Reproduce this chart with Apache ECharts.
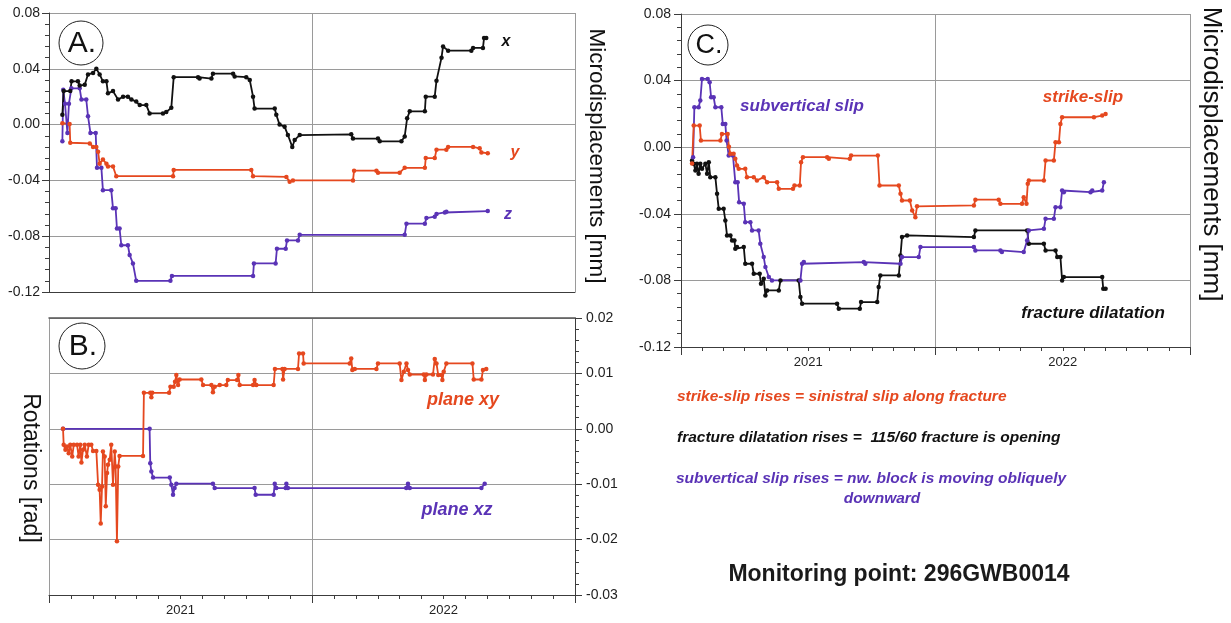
<!DOCTYPE html>
<html>
<head>
<meta charset="utf-8">
<title>Monitoring point 296GWB0014</title>
<script src="https://cdn.jsdelivr.net/npm/echarts@6/dist/echarts.min.js"></script>
<style>
  html, body { margin: 0; padding: 0; background: #fff; }
  #chart { width: 1231px; height: 623px; }
</style>
</head>
<body>
<div id="chart"></div>
<script>
// x = months counted from 1 Jan 2021, y = value
var yearLabels = ['2021', '2022'];

// A. microdisplacements [mm]
var dispX = [[0.61,0.007],[0.67,0.024],[0.97,0.024],[1.03,0.031],[1.32,0.031],[1.40,0.028],[1.63,0.0285],[1.78,0.036],[2.01,0.037],[2.16,0.040],[2.31,0.036],[2.46,0.031],[2.62,0.031],[2.69,0.0225],[2.92,0.024],[3.15,0.018],[3.38,0.020],[3.60,0.020],[3.76,0.018],[3.98,0.0165],[4.14,0.014],[4.44,0.014],[4.59,0.008],[5.20,0.008],[5.35,0.009],[5.58,0.012],[5.69,0.034],[6.80,0.034],[6.87,0.033],[7.41,0.033],[7.48,0.0365],[8.40,0.0365],[8.47,0.0345],[9.00,0.034],[9.16,0.032],[9.31,0.020],[9.38,0.0115],[10.30,0.0115],[10.37,0.007],[10.52,0.000],[10.75,-0.0015],[10.90,-0.0075],[11.10,-0.016],[11.21,-0.011],[11.44,-0.0075],[13.79,-0.007],[13.87,-0.010],[15.01,-0.010],[15.09,-0.012],[16.08,-0.012],[16.23,-0.0085],[16.34,0.0045],[16.46,0.0095],[17.15,0.0095],[17.19,0.020],[17.60,0.020],[17.68,0.0315],[17.91,0.048],[17.98,0.056],[18.21,0.053],[19.27,0.053],[19.35,0.055],[19.80,0.055],[19.85,0.062],[19.95,0.062]];
var dispY = [[0.61,0.001],[0.94,0.0005],[0.97,-0.013],[1.86,-0.0135],[2.01,-0.016],[2.16,-0.016],[2.24,-0.0195],[2.31,-0.028],[2.46,-0.025],[2.62,-0.028],[2.69,-0.030],[2.92,-0.030],[3.07,-0.037],[5.66,-0.037],[5.69,-0.0325],[9.23,-0.0325],[9.31,-0.037],[10.83,-0.0375],[10.98,-0.041],[11.13,-0.040],[13.87,-0.040],[13.92,-0.033],[14.94,-0.033],[15.01,-0.0345],[16.00,-0.0345],[16.23,-0.031],[17.15,-0.031],[17.19,-0.024],[17.60,-0.024],[17.68,-0.018],[18.13,-0.018],[18.21,-0.016],[19.35,-0.016],[19.65,-0.017],[19.73,-0.020],[20.02,-0.0205]];
var dispZ = [[0.61,-0.012],[0.65,0.025],[0.73,0.015],[0.84,-0.006],[0.91,0.015],[1.02,0.026],[1.40,0.026],[1.48,0.018],[1.70,0.018],[1.78,0.006],[1.89,-0.006],[2.13,-0.006],[2.19,-0.031],[2.39,-0.031],[2.46,-0.047],[2.84,-0.047],[2.92,-0.060],[3.04,-0.060],[3.10,-0.0745],[3.22,-0.0745],[3.30,-0.0865],[3.60,-0.0865],[3.68,-0.0935],[3.83,-0.0995],[3.98,-0.112],[5.54,-0.112],[5.61,-0.1085],[9.31,-0.1085],[9.35,-0.0995],[10.34,-0.0995],[10.40,-0.089],[10.80,-0.089],[10.86,-0.083],[11.36,-0.083],[11.44,-0.079],[16.23,-0.079],[16.31,-0.071],[17.15,-0.071],[17.22,-0.067],[17.60,-0.066],[17.68,-0.064],[18.06,-0.063],[18.13,-0.0625],[20.02,-0.062]];

// B. rotations [rad]
var rotXY = [[0.64,0.0],[0.67,-0.0029],[0.75,-0.0038],[0.82,-0.0032],[0.90,-0.0044],[0.97,-0.0029],[1.06,-0.005],[1.13,-0.0029],[1.28,-0.0029],[1.35,-0.005],[1.43,-0.0029],[1.48,-0.0061],[1.55,-0.0038],[1.63,-0.0029],[1.73,-0.005],[1.81,-0.0029],[1.93,-0.0029],[2.01,-0.004],[2.16,-0.004],[2.24,-0.0101],[2.31,-0.011],[2.36,-0.0171],[2.42,-0.0104],[2.46,-0.0041],[2.54,-0.005],[2.59,-0.014],[2.65,-0.008],[2.69,-0.0065],[2.77,-0.0056],[2.84,-0.0029],[2.92,-0.0101],[3.00,-0.0041],[3.04,-0.0068],[3.10,-0.0203],[3.16,-0.0068],[3.22,-0.0049],[4.29,-0.0049],[4.33,0.0065],[4.62,0.0065],[4.67,0.0057],[4.71,0.0065],[5.48,0.0065],[5.54,0.0076],[5.69,0.0076],[5.75,0.0085],[5.81,0.0097],[5.89,0.0079],[5.96,0.0089],[6.95,0.0089],[7.03,0.0079],[7.41,0.0079],[7.48,0.0066],[7.56,0.0076],[7.79,0.0079],[8.09,0.0079],[8.16,0.0088],[8.58,0.0088],[8.64,0.0097],[8.70,0.0079],[9.31,0.0079],[9.38,0.0088],[9.46,0.0079],[10.25,0.0079],[10.31,0.0108],[10.65,0.0108],[10.68,0.0089],[10.75,0.0108],[11.36,0.0108],[11.41,0.0136],[11.59,0.0136],[11.62,0.0118],[13.72,0.0118],[13.79,0.0127],[13.84,0.0106],[13.95,0.0108],[14.94,0.0108],[15.01,0.0118],[16.00,0.0118],[16.08,0.0088],[16.19,0.0103],[16.31,0.0118],[16.38,0.0106],[16.46,0.0098],[17.10,0.0098],[17.15,0.0088],[17.22,0.0098],[17.52,0.0098],[17.60,0.0126],[17.68,0.0118],[17.76,0.0097],[17.91,0.0097],[17.95,0.0088],[18.01,0.0103],[18.13,0.0118],[19.32,0.0118],[19.38,0.0089],[19.73,0.0089],[19.80,0.0106],[19.95,0.0108]];
var rotXZ = [[0.64,0.0],[4.59,0.0],[4.62,-0.0062],[4.67,-0.0077],[4.75,-0.0088],[5.51,-0.0088],[5.58,-0.0101],[5.66,-0.0119],[5.73,-0.0107],[5.81,-0.0099],[7.48,-0.0099],[7.56,-0.0107],[9.38,-0.0107],[9.43,-0.0119],[10.25,-0.0119],[10.30,-0.0099],[10.37,-0.0107],[10.80,-0.0107],[10.83,-0.0099],[10.90,-0.0107],[16.30,-0.0107],[16.38,-0.0099],[16.46,-0.0107],[19.73,-0.0107],[19.88,-0.0099]];

// C. fracture components [mm]
var strikeSlip = [[0.52,-0.0098],[0.60,0.013],[0.88,0.013],[0.94,0.004],[1.86,0.004],[1.93,0.008],[2.20,0.008],[2.26,0.0002],[2.33,-0.004],[2.48,-0.004],[2.56,-0.007],[2.64,-0.011],[2.72,-0.013],[3.03,-0.013],[3.11,-0.018],[3.43,-0.018],[3.58,-0.020],[3.90,-0.018],[4.06,-0.021],[4.53,-0.021],[4.61,-0.025],[5.28,-0.025],[5.35,-0.023],[5.60,-0.023],[5.66,-0.009],[5.75,-0.006],[6.89,-0.006],[6.97,-0.007],[7.96,-0.007],[8.02,-0.005],[9.28,-0.005],[9.36,-0.023],[10.27,-0.023],[10.35,-0.028],[10.42,-0.032],[10.79,-0.032],[10.90,-0.038],[11.05,-0.042],[11.13,-0.0355],[13.81,-0.035],[13.88,-0.0315],[14.98,-0.0315],[15.06,-0.034],[16.08,-0.034],[16.16,-0.030],[16.29,-0.034],[16.35,-0.022],[16.40,-0.020],[17.11,-0.020],[17.19,-0.008],[17.58,-0.008],[17.66,0.003],[17.82,0.003],[17.89,0.014],[17.97,0.018],[19.47,0.018],[19.86,0.019],[20.02,0.020]];
var dilatation = [[0.52,-0.008],[0.60,-0.010],[0.68,-0.014],[0.75,-0.010],[0.83,-0.016],[0.91,-0.010],[0.99,-0.013],[1.15,-0.010],[1.23,-0.016],[1.31,-0.009],[1.38,-0.018],[1.62,-0.018],[1.70,-0.028],[1.78,-0.037],[2.01,-0.037],[2.09,-0.044],[2.17,-0.053],[2.33,-0.053],[2.41,-0.056],[2.52,-0.056],[2.56,-0.061],[2.64,-0.060],[2.96,-0.060],[3.03,-0.070],[3.35,-0.070],[3.43,-0.076],[3.71,-0.076],[3.77,-0.082],[3.90,-0.079],[3.98,-0.089],[4.06,-0.086],[4.61,-0.086],[4.69,-0.080],[5.55,-0.080],[5.63,-0.090],[5.71,-0.094],[7.36,-0.094],[7.44,-0.097],[8.43,-0.097],[8.49,-0.093],[9.25,-0.093],[9.32,-0.084],[9.40,-0.077],[10.27,-0.077],[10.35,-0.065],[10.42,-0.054],[10.66,-0.053],[13.81,-0.054],[13.88,-0.050],[16.32,-0.050],[16.40,-0.058],[17.11,-0.058],[17.19,-0.062],[17.66,-0.062],[17.74,-0.066],[17.89,-0.066],[17.97,-0.080],[18.05,-0.078],[19.86,-0.078],[19.91,-0.085],[20.02,-0.085]];
var subvertical = [[0.57,-0.006],[0.63,0.024],[0.83,0.024],[0.91,0.028],[0.99,0.041],[1.26,0.041],[1.35,0.039],[1.42,0.030],[1.54,0.030],[1.62,0.024],[1.90,0.024],[1.97,0.014],[2.09,0.014],[2.15,0.004],[2.25,-0.005],[2.45,-0.005],[2.56,-0.021],[2.67,-0.021],[2.74,-0.033],[2.96,-0.034],[3.03,-0.045],[3.27,-0.045],[3.35,-0.050],[3.66,-0.050],[3.74,-0.058],[3.90,-0.066],[3.98,-0.072],[4.14,-0.078],[4.29,-0.080],[5.63,-0.080],[5.71,-0.070],[5.79,-0.069],[8.62,-0.069],[8.69,-0.070],[10.35,-0.070],[10.42,-0.066],[11.21,-0.066],[11.29,-0.060],[13.81,-0.060],[13.88,-0.062],[15.06,-0.062],[15.13,-0.063],[16.16,-0.063],[16.32,-0.056],[16.40,-0.050],[17.11,-0.049],[17.19,-0.043],[17.58,-0.043],[17.66,-0.036],[17.89,-0.036],[17.97,-0.026],[18.05,-0.027],[19.31,-0.027],[19.39,-0.026],[19.86,-0.026],[19.94,-0.021]];

var BLACK = '#111111', ORANGE = '#e5481f', PURPLE = '#5a33b6';
var AXIS = '#3c3c3c', GRID = '#9a9a9a';
var FONT = 'Arial, "Liberation Sans", sans-serif';

var chart = echarts.init(document.getElementById('chart'));

function fmt(v) {
    return Math.abs(v) < 1e-9 ? '0.00' : v.toFixed(2);
}

// month axis: long ticks at year ends, short ones every month
function timeAxis(grid, ticks) {
    return {
        type: 'value', gridIndex: grid, min: 0, max: 24, interval: 12, position: 'bottom',
        axisLine: { show: true, onZero: false, lineStyle: { color: AXIS } },
        axisTick: { show: ticks, length: 8, lineStyle: { color: AXIS } },
        minorTick: { show: ticks, splitNumber: 12, length: 4, lineStyle: { color: AXIS } },
        axisLabel: { show: false },
        splitLine: { show: true, lineStyle: { color: GRID } },
    };
}

// year names sit in the middle of each year
function yearAxis(grid) {
    return {
        type: 'value', gridIndex: grid, min: 0, max: 24, interval: 6, position: 'bottom',
        axisLine: { show: false }, axisTick: { show: false }, splitLine: { show: false },
        axisLabel: {
            margin: 9, fontSize: 13, color: '#222', fontFamily: FONT,
            formatter: function(v) {
                return v === 6 ? yearLabels[0] : v === 18 ? yearLabels[1] : '';
            },
        },
    };
}

function valueAxis(grid, min, max, step, pos, margin) {
    return {
        type: 'value', gridIndex: grid, min: min, max: max, interval: step, position: pos,
        axisLine: { show: true, onZero: false, lineStyle: { color: AXIS } },
        axisTick: { show: true, length: 7, lineStyle: { color: AXIS } },
        minorTick: { show: true, splitNumber: 5, length: 4, lineStyle: { color: AXIS } },
        axisLabel: { formatter: fmt, fontSize: 14, margin: margin, color: '#222', fontFamily: FONT },
        splitLine: { show: true, lineStyle: { color: GRID } },
    };
}

function line(data, color, xi, yi) {
    return {
        type: 'line', data: data, xAxisIndex: xi, yAxisIndex: yi,
        symbol: 'circle', symbolSize: 4.5, showSymbol: true,
        lineStyle: { color: color, width: 1.8 },
        itemStyle: { color: color },
        emphasis: { disabled: true },
    };
}

function label(text, x, y, color, size, align) {
    return {
        type: 'text', x: x, y: y, z: 100,
        style: {
            text: text, fill: color, font: 'italic bold ' + size + 'px ' + FONT,
            textAlign: align || 'center', align: align || 'center',
            textVerticalAlign: 'middle', verticalAlign: 'middle',
        },
    };
}

function sideName(text, x, y, size) {
    return {
        type: 'text', x: x, y: y, rotation: -Math.PI / 2, z: 100,
        style: {
            text: text, fill: '#111', font: size + 'px ' + FONT,
            textAlign: 'center', align: 'center', textVerticalAlign: 'middle', verticalAlign: 'middle',
        },
    };
}

function badge(text, cx, cy, r, size) {
    return [
        { type: 'circle', shape: { cx: cx, cy: cy, r: r }, z: 100,
          style: { fill: '#fff', stroke: '#222', lineWidth: 1 } },
        { type: 'text', x: cx + 1, y: cy + 1, z: 101,
          style: { text: text, fill: '#111', font: size + 'px ' + FONT,
                   textAlign: 'center', align: 'center', textVerticalAlign: 'middle', verticalAlign: 'middle' } },
    ];
}

var graphics = []
    .concat(badge('A.', 81, 43, 22, 30))
    .concat(badge('B.', 82, 346, 23, 30))
    .concat(badge('C.', 708, 45, 20, 27))
    .concat([
        sideName('Microdisplacements [mm]', 596, 156, 22.5),
        sideName('Rotations [rad]', 30, 468, 23),
        sideName('Microdisplacements [mm]', 1211, 154, 26),
        label('x', 506, 42, BLACK, 16),
        label('y', 515, 153, ORANGE, 16),
        label('z', 508, 215, PURPLE, 16),
        label('plane xy', 463, 400, ORANGE, 18),
        label('plane xz', 457, 510, PURPLE, 18),
        label('subvertical slip', 802, 106, PURPLE, 17),
        label('strike-slip', 1083, 97, ORANGE, 17),
        label('fracture dilatation', 1093, 313, BLACK, 17),
        label('strike-slip rises = sinistral slip along fracture', 677, 397, ORANGE, 15.5, 'left'),
        label('fracture dilatation rises =  115/60 fracture is opening', 677, 438, BLACK, 15.5, 'left'),
        label('subvertical slip rises = nw. block is moving obliquely', 676, 479, PURPLE, 15.5, 'left'),
        label('downward', 882, 499, PURPLE, 15.5),
        {
            type: 'text', x: 899, y: 575, z: 100,
            style: { text: 'Monitoring point: 296GWB0014', fill: '#1a1a1a', font: 'bold 23px ' + FONT,
                     textAlign: 'center', align: 'center', textVerticalAlign: 'middle', verticalAlign: 'middle' },
        },
    ]);

var topLine = {
    type: 'value', gridIndex: 1, min: 0, max: 24, position: 'top',
    axisLine: { show: true, onZero: false, lineStyle: { color: '#555', width: 1.5 } },
    axisTick: { show: false }, axisLabel: { show: false }, splitLine: { show: false },
};

var option = {
    animation: false,
    backgroundColor: '#fff',
    grid: [
        { left: 49, top: 13, width: 526, height: 279, outerBoundsMode: 'none' },
        { left: 49, top: 318, width: 526, height: 277, outerBoundsMode: 'none' },
        { left: 681, top: 14, width: 509, height: 333, outerBoundsMode: 'none' },
    ],
    xAxis: [
        timeAxis(0, false),
        timeAxis(1, true),
        yearAxis(1),
        topLine,
        timeAxis(2, true),
        yearAxis(2),
    ],
    yAxis: [
        valueAxis(0, -0.12, 0.08, 0.04, 'left', 9),
        valueAxis(1, -0.03, 0.02, 0.01, 'right', 11),
        valueAxis(2, -0.12, 0.08, 0.04, 'left', 10),
    ],
    series: [
        line(dispY, ORANGE, 0, 0),
        line(dispZ, PURPLE, 0, 0),
        line(dispX, BLACK, 0, 0),
        line(rotXZ, PURPLE, 1, 1),
        line(rotXY, ORANGE, 1, 1),
        line(dilatation, BLACK, 4, 2),
        line(subvertical, PURPLE, 4, 2),
        line(strikeSlip, ORANGE, 4, 2),
    ],
    graphic: graphics,
};

chart.setOption(option);
</script>
</body>
</html>
